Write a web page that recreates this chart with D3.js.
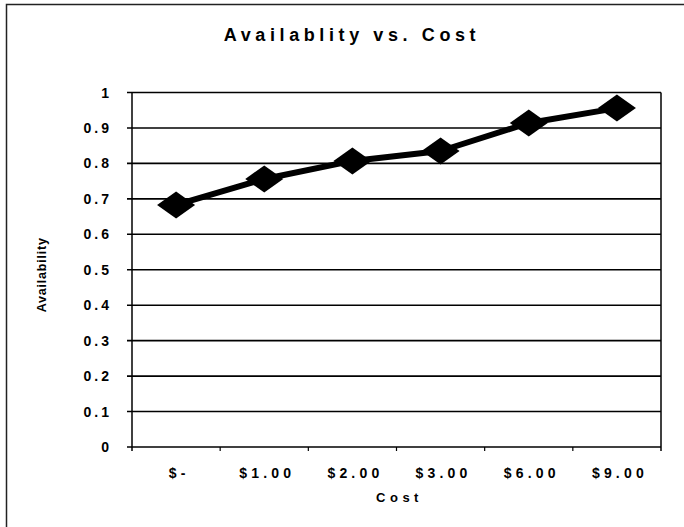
<!DOCTYPE html>
<html>
<head>
<meta charset="utf-8">
<script src="https://cdn.jsdelivr.net/npm/d3@7"></script>
<style>
  body { margin: 0; background: #fff; }
  text { font-family: "Liberation Sans", Arial, sans-serif; font-weight: bold; fill: #000; }
</style>
</head>
<body>
<div id="chart"></div>
<script>
//chart data
var costLabels = ["$-", "$1.00", "$2.00", "$3.00", "$6.00", "$9.00"];
var availability = [0.683, 0.756, 0.807, 0.835, 0.914, 0.956];
var yTicks = [0, 0.1, 0.2, 0.3, 0.4, 0.5, 0.6, 0.7, 0.8, 0.9, 1];

//svg and plot dimensions
var svgWidth = 684;
var svgHeight = 527;
var margin = { top: 92.5, right: 23, bottom: 80, left: 132 };
var width = 661 - margin.left;
var height = 447 - margin.top;

var svg = d3.select("#chart").append("svg")
    .attr("width", svgWidth)
    .attr("height", svgHeight);

//outer frame (only top and left show in the scan)
svg.append("path")
    .attr("d", "M6.5,527 V4.5 H684")
    .attr("fill", "none")
    .attr("stroke", "#222")
    .attr("stroke-width", 1.5);

//title
svg.append("text")
    .attr("x", 352)
    .attr("y", 41)
    .attr("text-anchor", "middle")
    .attr("font-size", "18px")
    .attr("letter-spacing", "4.6px")
    .text("Availablity vs. Cost");

var chartGroup = svg.append("g")
    .attr("transform", `translate(${margin.left}, ${margin.top})`);

//scales
var xScale = d3.scaleBand()
    .domain(costLabels)
    .range([0, width]);

var yScale = d3.scaleLinear()
    .domain([0, 1])
    .range([height, 0]);

//horizontal gridlines with outward ticks
chartGroup.append("g")
    .selectAll("line")
    .data(yTicks)
    .enter()
    .append("line")
    .attr("x1", -5)
    .attr("x2", width)
    .attr("y1", d => yScale(d))
    .attr("y2", d => yScale(d))
    .attr("stroke", "#000")
    .attr("stroke-width", 1.6);

//plot side borders
chartGroup.append("line")
    .attr("x1", 0).attr("x2", 0)
    .attr("y1", 0).attr("y2", height + 4)
    .attr("stroke", "#000").attr("stroke-width", 1.5);
chartGroup.append("line")
    .attr("x1", width).attr("x2", width)
    .attr("y1", 0).attr("y2", height + 4)
    .attr("stroke", "#000").attr("stroke-width", 1.5);

//x-axis tick marks between categories
chartGroup.append("g")
    .selectAll("line")
    .data(costLabels.slice(1))
    .enter()
    .append("line")
    .attr("x1", d => xScale(d))
    .attr("x2", d => xScale(d))
    .attr("y1", height)
    .attr("y2", height + 4)
    .attr("stroke", "#000")
    .attr("stroke-width", 1.2);

//y tick labels
chartGroup.append("g")
    .selectAll("text")
    .data(yTicks)
    .enter()
    .append("text")
    .attr("x", -20)
    .attr("y", d => yScale(d))
    .attr("dy", "0.36em")
    .attr("text-anchor", "end")
    .attr("font-size", "14px")
    .attr("letter-spacing", "3px")
    .text(d => d3.format("")(d));

//x tick labels
chartGroup.append("g")
    .selectAll("text")
    .data(costLabels)
    .enter()
    .append("text")
    .attr("x", d => xScale(d) + xScale.bandwidth() / 2 + 3)
    .attr("y", height + 31)
    .attr("text-anchor", "middle")
    .attr("font-size", "14px")
    .attr("letter-spacing", "4.2px")
    .text(d => d);

//axis titles
chartGroup.append("text")
    .attr("x", width / 2 + 3)
    .attr("y", height + 55)
    .attr("text-anchor", "middle")
    .attr("font-size", "13px")
    .attr("letter-spacing", "4.5px")
    .text("Cost");

chartGroup.append("text")
    .attr("transform", `translate(${46 - margin.left}, ${height / 2 + 5}) rotate(-90)`)
    .attr("text-anchor", "middle")
    .attr("font-size", "12.5px")
    .attr("letter-spacing", "0.8px")
    .text("Availability");

//data line
var line = d3.line()
    .x((d, i) => xScale(costLabels[i]) + xScale.bandwidth() / 2)
    .y(d => yScale(d));

chartGroup.append("path")
    .datum(availability)
    .attr("d", line)
    .attr("fill", "none")
    .attr("stroke", "#000")
    .attr("stroke-width", 6)
    .attr("stroke-linejoin", "round");

//diamond markers
chartGroup.append("g")
    .selectAll("path")
    .data(availability)
    .enter()
    .append("path")
    .attr("transform", (d, i) => `translate(${xScale(costLabels[i]) + xScale.bandwidth() / 2}, ${yScale(d)})`)
    .attr("d", "M-19,0 L0,-13.5 L19,0 L0,13.5 Z")
    .attr("fill", "#000");
</script>
</body>
</html>
